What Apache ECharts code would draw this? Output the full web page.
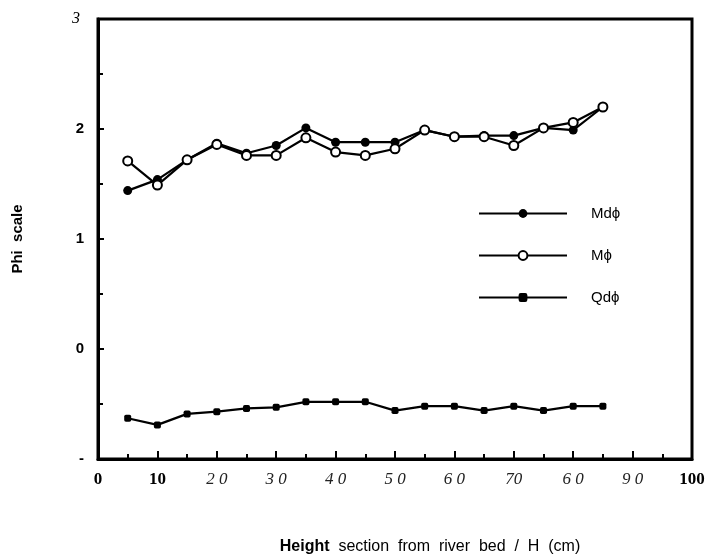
<!DOCTYPE html>
<html>
<head>
<meta charset="utf-8">
<script src="https://cdn.jsdelivr.net/npm/echarts@6/dist/echarts.min.js"></script>
<style>html,body{margin:0;padding:0;background:#fff}#c{width:712px;height:560px}</style>
</head>
<body>
<div id="c"></div>
<script>
var heights = [5, 10, 15, 20, 25, 30, 35, 40, 45, 50, 55, 60, 65, 70, 75, 80, 85];
var mdPhi = [1.44, 1.54, 1.72, 1.87, 1.78, 1.85, 2.01, 1.88, 1.88, 1.88, 1.99, 1.93, 1.94, 1.94, 2.01, 1.99, 2.2];
var mPhi  = [1.71, 1.49, 1.72, 1.86, 1.76, 1.76, 1.92, 1.79, 1.76, 1.82, 1.99, 1.93, 1.93, 1.85, 2.01, 2.06, 2.2];
var qdPhi = [-0.63, -0.69, -0.59, -0.57, -0.54, -0.53, -0.48, -0.48, -0.48, -0.56, -0.52, -0.52, -0.56, -0.52, -0.56, -0.52, -0.52];
var seriesNames = ['Mdϕ', 'Mϕ', 'Qdϕ'];
var xTickValues = [0, 10, 20, 30, 40, 50, 60, 70, 80, 90, 100];
var xTickLabels = ['0', '10', '2 0', '3 0', '4 0', '5 0', '6 0', '70', '6 0', '9 0', '100'];
var yTickValues = [-1, 0, 1, 2, 3];
var yTickLabels = ['-', '0', '1', '2', '3'];
var xTitleBold = 'Height';
var xTitleRest = '  section  from  river  bed  /  H  (cm)';
var yTitle = 'Phi  scale';

function pair(xs, ys) { return xs.map(function (x, i) { return [x, ys[i]]; }); }

var chart = echarts.init(document.getElementById('c'), null, {renderer: 'canvas'});
var lineBase = {type: 'line', lineStyle: {color: '#000', width: 2.2}, itemStyle: {color: '#000'}, animation: false};
chart.setOption({
  backgroundColor: '#fff',
  grid: {left: 98, right: 20, top: 19, bottom: 91, show: true, borderColor: '#000', borderWidth: 3},
  legend: {
    orient: 'vertical', left: 473, top: 201, itemWidth: 88, itemHeight: 11, itemGap: 27,
    data: seriesNames,
    textStyle: {fontFamily: 'Liberation Sans', fontSize: 15, color: '#000', padding: [0, 0, 0, 19]}
  },
  xAxis: {
    type: 'value', min: 0, max: 100, interval: 10,
    axisLine: {show: true, onZero: false, lineStyle: {color: '#000', width: 3}},
    axisTick: {show: true, inside: true, length: 8, lineStyle: {color: '#000', width: 2}},
    minorTick: {show: true, splitNumber: 2, length: 5, lineStyle: {color: '#000', width: 2}},
    splitLine: {show: false},
    axisLabel: {
      margin: 12,
      formatter: function (v) {
        var i = xTickValues.indexOf(v);
        if (i < 0) return '';
        var t = xTickLabels[i];
        return (t === '0' || t === '10' || t === '100') ? '{b|' + t + '}' : '{i|' + t + '}';
      },
      rich: {
        b: {fontFamily: 'Liberation Serif', fontWeight: 'bold', fontSize: 17, color: '#000'},
        i: {fontFamily: 'Liberation Serif', fontStyle: 'italic', fontSize: 17, color: '#222'}
      }
    },
    name: '{b|' + xTitleBold + '}{r|' + xTitleRest + '}',
    nameLocation: 'middle', nameGap: 80,
    nameTextStyle: {
      padding: [0, 0, 0, 70],
      rich: {
        b: {fontFamily: 'Liberation Sans', fontWeight: 'bold', fontSize: 16, color: '#000'},
        r: {fontFamily: 'Liberation Sans', fontSize: 16, color: '#000'}
      }
    }
  },
  yAxis: {
    type: 'value', min: -1, max: 3, interval: 1,
    axisLine: {show: true, onZero: false, lineStyle: {color: '#000', width: 3}},
    axisTick: {show: true, inside: true, length: 6, lineStyle: {color: '#000', width: 2}},
    minorTick: {show: true, splitNumber: 2, length: 5, lineStyle: {color: '#000', width: 2}},
    splitLine: {show: false},
    axisLabel: {
      margin: 14,
      formatter: function (v) {
        var i = yTickValues.indexOf(v);
        if (i < 0) return '';
        var t = yTickLabels[i];
        return t === '3' ? '{i|' + t + '}' : '{s|' + t + '}';
      },
      rich: {
        s: {fontFamily: 'Liberation Sans', fontWeight: 'bold', fontSize: 15, color: '#000'},
        i: {fontFamily: 'Liberation Serif', fontStyle: 'italic', fontSize: 16, color: '#000', padding: [0, 4, 0, 0]}
      }
    },
    name: yTitle, nameLocation: 'middle', nameGap: 73,
    nameTextStyle: {fontFamily: 'Liberation Sans', fontWeight: 'bold', fontSize: 15, color: '#000'}
  },
  series: [
    Object.assign({}, lineBase, {name: seriesNames[0], data: pair(heights, mdPhi), symbol: 'circle', symbolSize: 9, z: 3}),
    Object.assign({}, lineBase, {name: seriesNames[1], data: pair(heights, mPhi), symbol: 'circle', symbolSize: 9,
      itemStyle: {color: '#fff', borderColor: '#000', borderWidth: 2}, z: 4}),
    Object.assign({}, lineBase, {name: seriesNames[2], data: pair(heights, qdPhi), symbol: 'roundRect', symbolSize: 7, z: 3})
  ]
});
</script>
</body>
</html>
